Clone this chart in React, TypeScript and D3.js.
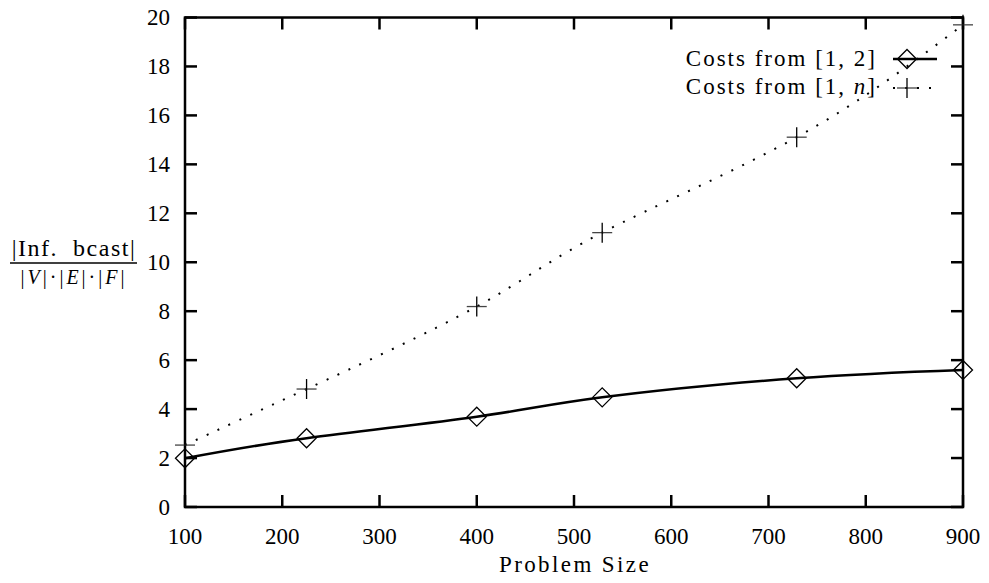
import { useEffect, useRef } from "react";
import * as d3 from "d3";

const sizes = [100, 225, 400, 529, 729, 900];
const costsTwo = [1.99, 2.81, 3.69, 4.48, 5.26, 5.6];
const costsN = [2.53, 4.82, 8.19, 11.21, 15.11, 19.7];
const xTicks = [100, 200, 300, 400, 500, 600, 700, 800, 900];
const yTicks = [0, 2, 4, 6, 8, 10, 12, 14, 16, 18, 20];

const W = 989;
const H = 583;
const FONT = "Liberation Serif";

const App = () => {
  const svgRef = useRef<SVGSVGElement | null>(null);

  useEffect(() => {
    const left = 185, right = 963, top = 17.5, bottom = 507;
    const x = d3.scaleLinear().domain([100, 900]).range([left, right]);
    const y = d3.scaleLinear().domain([0, 20]).range([bottom, top]);

    const svg = d3.select(svgRef.current);
    svg.selectAll("*").remove();

    // ticks, mirrored on all four sides, pointing in
    const tk = 12;
    const ticks = svg.append("g").attr("stroke", "#000").attr("stroke-width", 2.5);
    xTicks.forEach((t) => {
      ticks.append("line").attr("x1", x(t)).attr("x2", x(t)).attr("y1", bottom).attr("y2", bottom - tk);
      ticks.append("line").attr("x1", x(t)).attr("x2", x(t)).attr("y1", top).attr("y2", top + tk);
    });
    yTicks.forEach((t) => {
      ticks.append("line").attr("x1", left).attr("x2", left + tk).attr("y1", y(t)).attr("y2", y(t));
      ticks.append("line").attr("x1", right).attr("x2", right - tk).attr("y1", y(t)).attr("y2", y(t));
    });

    svg
      .append("rect")
      .attr("x", left)
      .attr("y", top)
      .attr("width", right - left)
      .attr("height", bottom - top)
      .attr("fill", "none")
      .attr("stroke", "#000")
      .attr("stroke-width", 2.5);

    const labels = svg.append("g").attr("font-family", FONT).attr("font-size", 23).attr("fill", "#000");
    labels
      .selectAll("text.xt")
      .data(xTicks)
      .join("text")
      .attr("x", (d) => x(d))
      .attr("y", 544)
      .attr("text-anchor", "middle")
      .text((d) => d);
    labels
      .selectAll("text.yt")
      .data(yTicks)
      .join("text")
      .attr("x", 170)
      .attr("y", (d) => y(d) + 7.5)
      .attr("text-anchor", "end")
      .text((d) => d);

    labels
      .append("text")
      .attr("x", 575)
      .attr("y", 572)
      .attr("text-anchor", "middle")
      .attr("letter-spacing", 2.4)
      .text("Problem Size");

    // y label as a fraction
    const yl = svg.append("g").attr("font-family", FONT).attr("fill", "#000");
    yl.append("text")
      .attr("x", 74)
      .attr("y", 256)
      .attr("text-anchor", "middle")
      .attr("font-size", 24)
      .attr("letter-spacing", 1.5)
      .attr("xml:space", "preserve")
      .text("|Inf.  bcast|");
    yl.append("line")
      .attr("x1", 10)
      .attr("x2", 137)
      .attr("y1", 263)
      .attr("y2", 263)
      .attr("stroke", "#000")
      .attr("stroke-width", 1.5);
    const den = yl
      .append("text")
      .attr("x", 74)
      .attr("y", 284)
      .attr("text-anchor", "middle")
      .attr("font-size", 20)
      .attr("letter-spacing", 3);
    den.append("tspan").text("|");
    den.append("tspan").attr("font-style", "italic").text("V");
    den.append("tspan").text("|·|");
    den.append("tspan").attr("font-style", "italic").text("E");
    den.append("tspan").text("|·|");
    den.append("tspan").attr("font-style", "italic").text("F");
    den.append("tspan").text("|");

    const pts = (vals: number[]) => sizes.map((s, i) => [x(s), y(vals[i])] as [number, number]);
    const line = d3.line().curve(d3.curveNatural);

    svg
      .append("path")
      .attr("d", line(pts(costsTwo)))
      .attr("fill", "none")
      .attr("stroke", "#000")
      .attr("stroke-width", 2.5);
    svg
      .append("path")
      .attr("d", line(pts(costsN)))
      .attr("fill", "none")
      .attr("stroke", "#000")
      .attr("stroke-width", 2)
      .attr("stroke-dasharray", "2 10");

    const diamond = (g: any, cx: number, cy: number) =>
      g
        .append("path")
        .attr("d", `M${cx - 9.5},${cy}L${cx},${cy - 9.5}L${cx + 9.5},${cy}L${cx},${cy + 9.5}Z`)
        .attr("fill", "none")
        .attr("stroke", "#000")
        .attr("stroke-width", 1.3);
    const plus = (g: any, cx: number, cy: number) => {
      g.append("line").attr("x1", cx - 10).attr("x2", cx + 10).attr("y1", cy).attr("y2", cy).attr("stroke", "#444").attr("stroke-width", 1.3);
      g.append("line").attr("x1", cx).attr("x2", cx).attr("y1", cy - 10).attr("y2", cy + 10).attr("stroke", "#000").attr("stroke-width", 1.3);
    };

    const marks = svg.append("g");
    pts(costsTwo).forEach(([px, py]) => diamond(marks, px, py));
    pts(costsN).forEach(([px, py]) => plus(marks, px, py));

    // legend
    const lg = svg
      .append("g")
      .attr("font-family", FONT)
      .attr("font-size", 23)
      .attr("letter-spacing", 2)
      .attr("fill", "#000");
    lg.append("text").attr("x", 877).attr("y", 66).attr("text-anchor", "end").text("Costs from [1, 2]");
    const t2 = lg.append("text").attr("x", 877).attr("y", 94).attr("text-anchor", "end");
    t2.append("tspan").text("Costs from [1, ");
    t2.append("tspan").attr("font-style", "italic").text("n");
    t2.append("tspan").text("]");
    lg.append("line").attr("x1", 893).attr("x2", 937).attr("y1", 59).attr("y2", 59).attr("stroke", "#000").attr("stroke-width", 2.5);
    diamond(lg, 907, 59);
    lg.append("line")
      .attr("x1", 893)
      .attr("x2", 937)
      .attr("y1", 88)
      .attr("y2", 88)
      .attr("stroke", "#000")
      .attr("stroke-width", 2)
      .attr("stroke-dasharray", "2 10");
    plus(lg, 907, 88);

    return () => {
      svg.selectAll("*").remove();
    };
  }, []);

  return (
    <svg
      ref={svgRef}
      width={W}
      height={H}
      style={{ position: "absolute", left: 0, top: 0, background: "#fff" }}
    ></svg>
  );
};

export default App;
